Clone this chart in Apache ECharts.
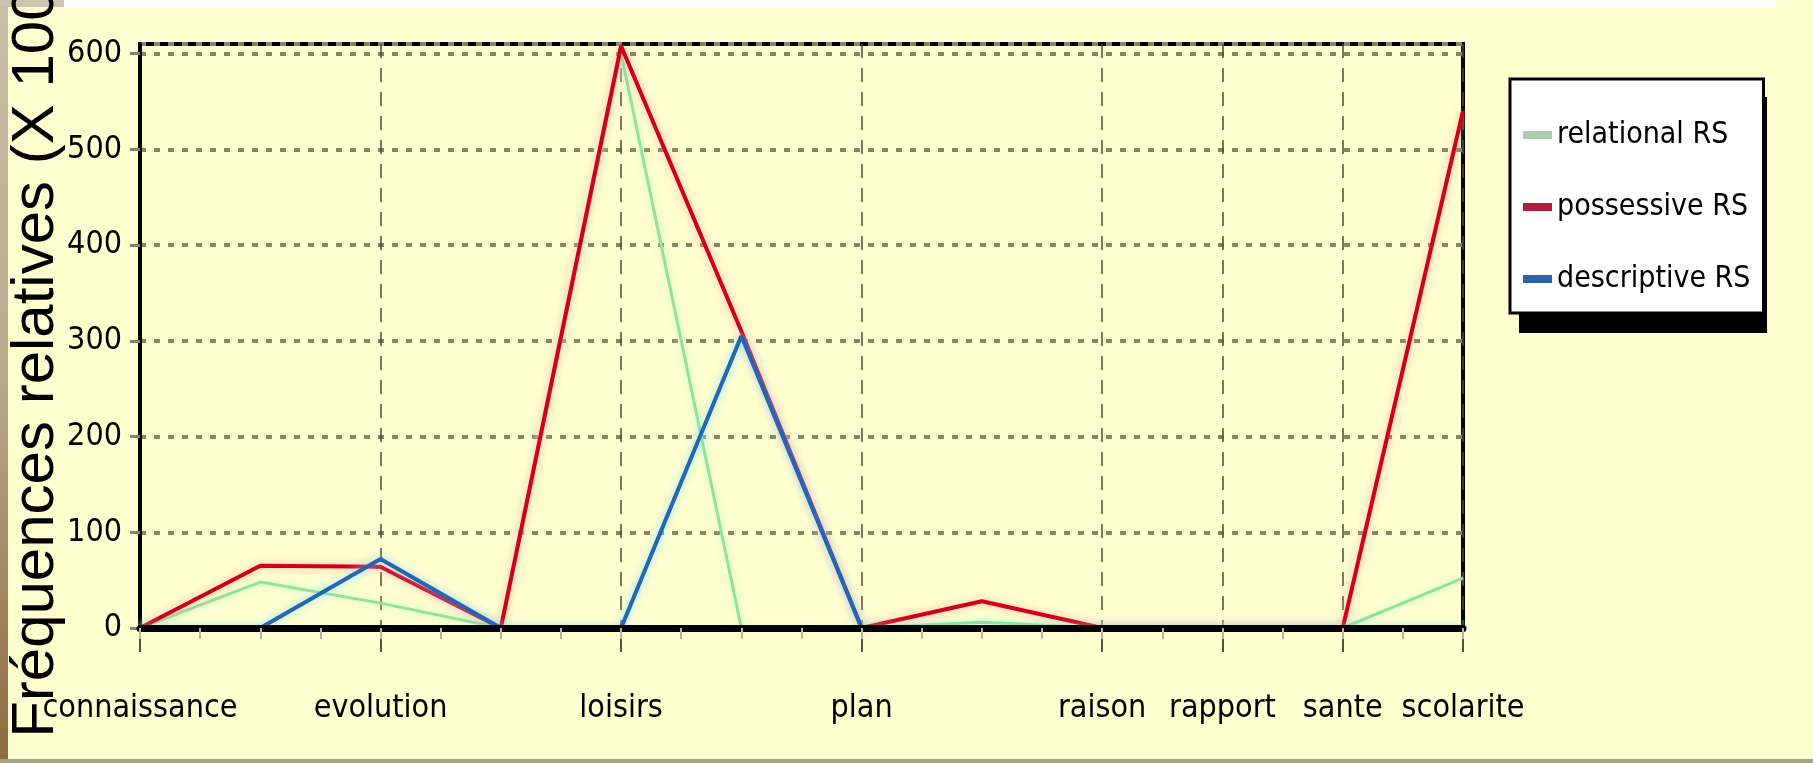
<!DOCTYPE html>
<html>
<head>
<meta charset="utf-8">
<script src="https://cdn.jsdelivr.net/npm/echarts@6/dist/echarts.min.js"></script>
<style>
  html, body { margin: 0; padding: 0; background: #FFFECF; }
  #chart { width: 1813px; height: 763px; }
</style>
</head>
<body>
<div id="chart"></div>
<script>
// Category slots (unlabelled slots are blank in the reference)
var categories = ['connaissance', '', 'evolution', '', 'loisirs', '', 'plan', '', 'raison', 'rapport', 'sante', 'scolarite'];
var seriesNames = ['relational RS', 'possessive RS', 'descriptive RS'];
var relational  = [0, 48, 26, 0, 600, 0, 0, 6, 0, 0, 0, 52];
var possessive  = [0, 65, 64, 0, 608, 310, 0, 28, 0, 0, 0, 540];
var descriptive = [0, 0, 72, 0, 0, 305, 0, 0, 0, 0, 0, 0];
var yTicks = [0, 100, 200, 300, 400, 500, 600];
var yAxisTitle = 'Fréquences relatives (X 1000)';

var narrow = "'Liberation Sans Narrow', 'DejaVu Sans Condensed', 'Liberation Sans', sans-serif";
var isLabelled = function (idx) { return categories[idx] !== ''; };

var chart = echarts.init(document.getElementById('chart'), null, { renderer: 'canvas' });
chart.setOption({
  backgroundColor: '#FFFECF',
  animation: false,
  graphic: [
    { type: 'rect', z: 0, shape: { x: 0, y: 0, width: 8, height: 763 }, silent: true,
      style: { fill: new echarts.graphic.LinearGradient(0, 0, 0, 1, [
        { offset: 0, color: '#cbbfa8' }, { offset: 0.5, color: '#bba78a' }, { offset: 1, color: '#8e6a3e' }]) } },
    { type: 'rect', z: 0, shape: { x: 0, y: 0, width: 64, height: 7 }, silent: true, style: { fill: '#cdc3ae' } },
    { type: 'rect', z: 0, shape: { x: 64, y: 0, width: 1712, height: 8 }, silent: true, style: { fill: '#ffffff' } },
    { type: 'rect', z: 0, shape: { x: 0, y: 759, width: 1813, height: 4 }, silent: true, style: { fill: '#a8a27a' } },
    // legend drop shadow
    { type: 'rect', z: 0, shape: { x: 1519, y: 97, width: 248, height: 236 }, silent: true, style: { fill: '#000' } }
  ],
  grid: {
    left: 140, top: 44, right: 350, bottom: 135,
    outerBoundsMode: 'none',
    show: true, borderColor: '#000', borderWidth: 4, backgroundColor: 'transparent'
  },
  legend: {
    orient: 'vertical',
    left: 1510, top: 79,
    z: 10,
    padding: [41, 13, 19, 13],
    itemGap: 42,
    itemWidth: 29, itemHeight: 8,
    icon: 'rect',
    backgroundColor: '#ffffff',
    borderColor: '#000', borderWidth: 3,
    textStyle: { fontFamily: narrow, fontSize: 30, color: '#000' },
    data: [
      { name: seriesNames[0], itemStyle: { color: '#a8cfae' } },
      { name: seriesNames[1], itemStyle: { color: '#b0203c' } },
      { name: seriesNames[2], itemStyle: { color: '#2d62a8' } }
    ]
  },
  xAxis: [{
    type: 'category',
    data: categories,
    boundaryGap: false,
    axisLine: { show: false },
    axisTick: { show: true, interval: isLabelled, length: 24, lineStyle: { color: '#55553a', width: 2 } },
    axisLabel: { interval: 0, margin: 65, fontFamily: narrow, fontSize: 32, color: '#000' },
    splitLine: { show: true, interval: isLabelled, lineStyle: { color: '#4d4d33', width: 1.5, type: [14, 10] } }
  }, {
    type: 'value', min: 0, max: categories.length - 1, interval: 0.5,
    position: 'bottom',
    z: 5,
    axisLine: { show: true, onZero: false, lineStyle: { color: '#000', width: 7 } },
    axisTick: { show: true, length: 11, lineStyle: { color: '#b8b8a0', width: 2 } },
    axisLabel: { show: false },
    splitLine: { show: false }
  }],
  yAxis: {
    type: 'value',
    min: 0, max: 610, interval: 100,
    name: yAxisTitle,
    nameLocation: 'middle',
    nameRotate: 90,
    nameGap: 74,
    nameMoveOverlap: false,
    nameTextStyle: { fontFamily: "'Liberation Sans', Arial, sans-serif", fontSize: 60, color: '#000' },
    axisLine: { show: true, lineStyle: { color: '#000', width: 4 } },
    axisTick: { show: true, length: 10, lineStyle: { color: '#808070', width: 3 } },
    axisLabel: {
      margin: 18, fontFamily: narrow, fontSize: 32, color: '#000', showMaxLabel: false,
      formatter: function (v) { return yTicks.indexOf(v) >= 0 ? String(v) : ''; }
    },
    splitLine: { show: true, lineStyle: { color: '#85856a', width: 4, type: [6, 8] } }
  },
  series: [
    { name: seriesNames[0], type: 'line', data: relational, showSymbol: false, xAxisIndex: 0,
      lineStyle: { color: '#8fe39a', width: 3, shadowColor: 'rgba(180,255,200,0.8)', shadowBlur: 8 },
      itemStyle: { color: '#a8cfae' } },
    { name: seriesNames[1], type: 'line', data: possessive, showSymbol: false, xAxisIndex: 0,
      lineStyle: { color: '#d0001a', width: 4, shadowColor: 'rgba(255,160,160,0.8)', shadowBlur: 8 },
      itemStyle: { color: '#b0203c' } },
    { name: seriesNames[2], type: 'line', data: descriptive, showSymbol: false, xAxisIndex: 0,
      lineStyle: { color: '#2565b5', width: 4, shadowColor: 'rgba(130,220,255,0.9)', shadowBlur: 8 },
      itemStyle: { color: '#2d62a8' } }
  ]
});
</script>
</body>
</html>
